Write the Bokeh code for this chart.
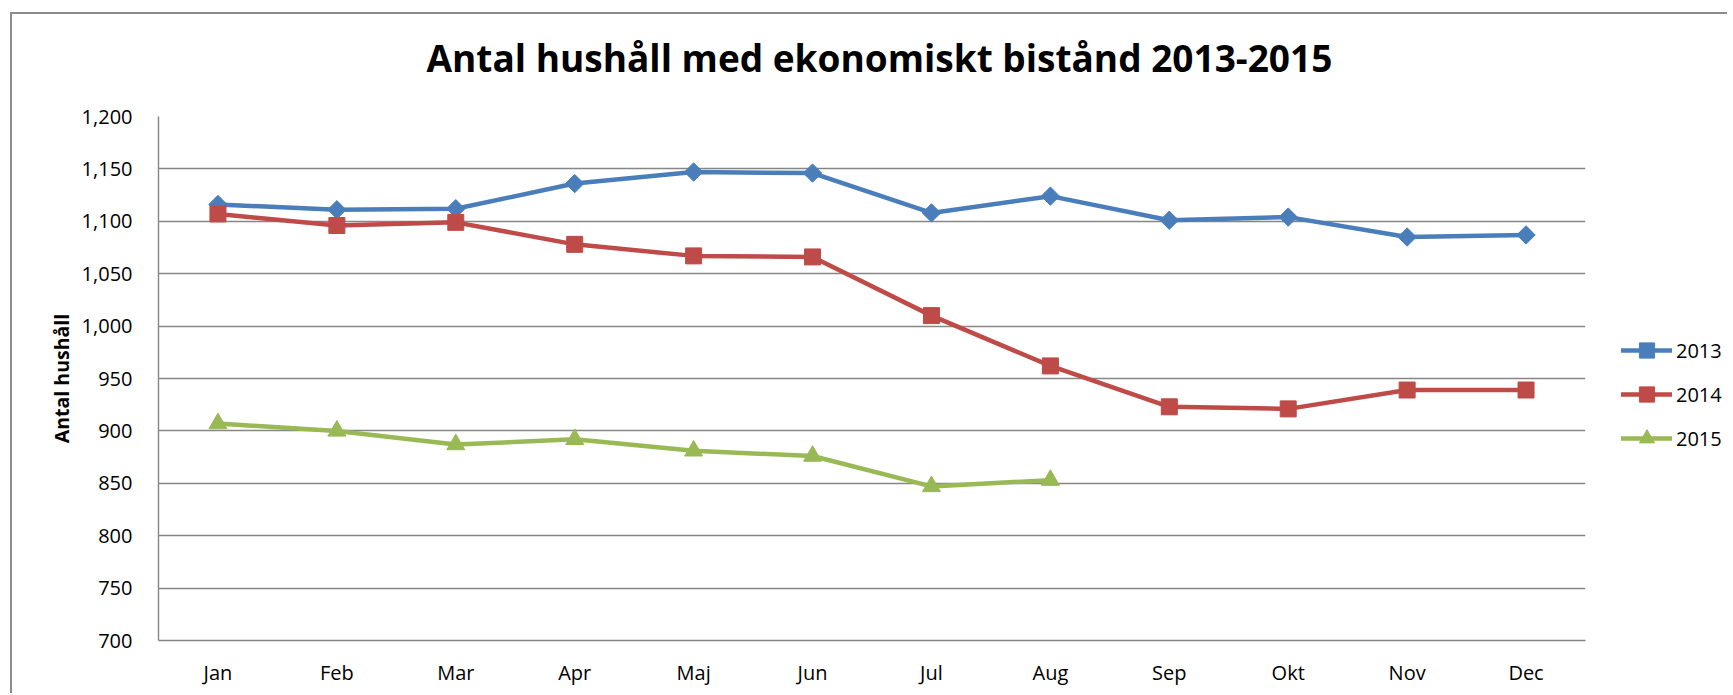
import math
from bokeh.plotting import figure
from bokeh.layouts import row
from bokeh.models import FactorRange, Range1d, Legend, LegendItem, ColumnDataSource, CustomJSTickFormatter, Title
from bokeh.embed import file_html
from bokeh.resources import INLINE

months = ["Jan", "Feb", "Mar", "Apr", "Maj", "Jun", "Jul", "Aug", "Sep", "Okt", "Nov", "Dec"]
v2013 = [1116, 1111, 1112, 1136, 1147, 1146, 1108, 1124, 1101, 1104, 1085, 1087]
v2014 = [1107, 1096, 1099, 1078, 1067, 1066, 1010, 962, 923, 921, 939, 939]
v2015 = [907, 900, 887, 892, 881, 876, 847, 853]
y_ticks = [700, 750, 800, 850, 900, 950, 1000, 1050, 1100, 1150, 1200]
title_text = "Antal hushåll med ekonomiskt bistånd 2013-2015"
y_label = "Antal hushåll"

FONT = "Open Sans"
GRID = "#868686"
H = 679

p = figure(
    width=1583, height=H,
    x_range=FactorRange(*months), y_range=Range1d(700, 1200),
    output_backend="svg", toolbar_location=None,
    min_border_left=146, min_border_right=10, min_border_top=102, min_border_bottom=53,
    title=title_text,
)
p.outline_line_color = None
p.background_fill_color = "white"
p.border_fill_color = "white"

p.title.text_font = FONT
p.title.text_font_size = "37px"
p.title.text_font_style = "bold"
p.title.text_color = "black"
p.title.align = "left"
p.title.offset = 268
p.title.vertical_align = "top"
if "padding" in Title.properties():
    p.title.padding = dict(left=0, right=0, top=0, bottom=32)
    p.title.standoff = 0
else:
    p.title.standoff = 37

p.xgrid.grid_line_color = None
p.ygrid.grid_line_color = GRID
p.ygrid.grid_line_width = 1.4
p.yaxis.ticker = y_ticks
p.yaxis.formatter = CustomJSTickFormatter(code="return tick.toLocaleString('en-US');")

for ax in (p.xaxis, p.yaxis):
    ax.axis_line_color = GRID
    ax.axis_line_width = 1.4
    ax.major_tick_line_color = None
    ax.minor_tick_line_color = None
    ax.major_tick_out = 0
    ax.major_tick_in = 0
    ax.major_label_text_font = FONT
    ax.major_label_text_font_size = "20px"
    ax.major_label_text_color = "black"

p.yaxis.major_label_standoff = 26
p.xaxis.major_label_standoff = 18
p.yaxis.axis_label = y_label
p.yaxis.axis_label_text_font = FONT
p.yaxis.axis_label_text_font_size = "19.5px"
p.yaxis.axis_label_text_font_style = "bold"
p.yaxis.axis_label_text_color = "black"
p.yaxis.axis_label_standoff = 4

# legend panel (separate canvas so the legend is not clipped by the plot frame)
p2 = figure(
    width=132, height=H,
    x_range=FactorRange(*months), y_range=Range1d(700, 1200),
    output_backend="svg", toolbar_location=None,
    x_axis_location=None, y_axis_location=None,
    min_border_left=0, min_border_right=0, min_border_top=0, min_border_bottom=0,
)
p2.outline_line_color = None
p2.xgrid.visible = False
p2.ygrid.visible = False
p2.background_fill_color = "white"
p2.border_fill_color = "white"

series = [
    ("2013", months, v2013, "#4A7EBB", "square", math.pi / 4, 13),
    ("2014", months, v2014, "#BE4B48", "square", 0, 16),
    ("2015", months[:len(v2015)], v2015, "#98B954", "triangle", 0, 18),
]

items = []
for label, xs, ys, color, marker, ang, size in series:
    src = ColumnDataSource(dict(x=xs, y=ys))
    line_kw = dict(line_color=color, line_width=4.5, line_join="round", line_cap="round")
    mark_kw = dict(marker=marker, angle=ang, size=size, fill_color=color, line_color=color)
    p.line("x", "y", source=src, **line_kw)
    p.scatter("x", "y", source=src, **mark_kw)
    lr = p2.line("x", "y", source=src, visible=False, **line_kw)
    sr = p2.scatter("x", "y", source=src, visible=False, **mark_kw)
    items.append(LegendItem(label=label, renderers=[lr, sr]))

legend = Legend(items=items, location=(26, 183), orientation="vertical")
legend.label_text_font = FONT
legend.label_text_font_size = "20px"
legend.label_text_color = "black"
legend.label_standoff = 4
legend.glyph_width = 51
legend.glyph_height = 38
legend.label_height = 20
legend.spacing = 6
legend.padding = 0
legend.margin = 0
legend.border_line_color = None
legend.background_fill_alpha = 0
legend.inactive_fill_alpha = 0
p2.add_layout(legend, "center")

layout = row(p, p2, margin=(12, 0, 0, 10),
             styles={"border-left": "2px solid #8c8c8c", "border-top": "2px solid #8c8c8c"})

open("out.html", "w").write(file_html(layout, INLINE))
